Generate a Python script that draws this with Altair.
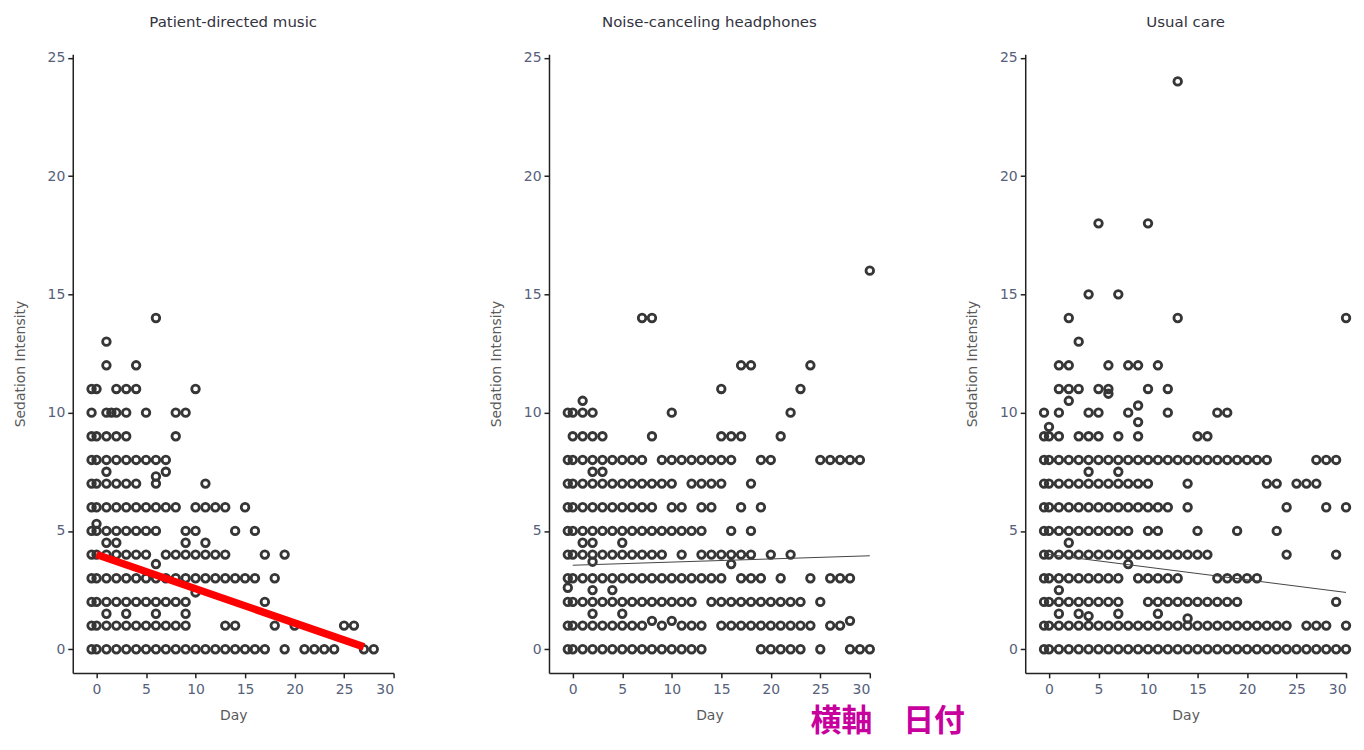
import altair as alt
import pandas as pd

panel_titles = ["Patient-directed music", "Noise-canceling headphones", "Usual care"]
x_ticks = [0, 5, 10, 15, 20, 25, 30]
y_ticks = [0, 5, 10, 15, 20, 25]
note_text = "横軸　日付"

music_rows = {
    14: [6],
    13: [1],
    12: [1, 4],
    11: [-0.5, 0, 2, 3, 4, 10],
    10: [-0.5, 1, 1.5, 2, 3, 5, 8, 9],
    9: [-0.5, 0, 1, 2, 3, 8],
    8: [-0.5, 0, 1, 2, 3, 4, 5, 6, 7],
    7.5: [1, 7],
    7.3: [6],
    7: [-0.5, 0, 1, 2, 3, 4, 6, 11],
    6: [-0.5, 0, 1, 2, 3, 4, 5, 6, 7, 8, 10, 11, 12, 13, 15],
    5.3: [0],
    5: [-0.5, 0, 1, 2, 3, 4, 5, 6, 9, 10, 14, 16],
    4.5: [1, 2, 9, 11],
    4: [-0.5, 0, 1, 2, 3, 4, 5, 7, 8, 9, 10, 11, 12, 13, 17, 19],
    3.6: [6],
    3: [-0.5, 0, 1, 2, 3, 4, 5, 6, 7, 8, 9, 10, 11, 12, 13, 14, 15, 16, 18],
    2.4: [10],
    2: [-0.5, 0, 1, 2, 3, 4, 5, 6, 7, 8, 9, 17],
    1.5: [1, 3, 6, 9],
    1: [-0.5, 0, 1, 2, 3, 4, 5, 6, 7, 8, 9, 13, 14, 18, 20, 25, 26],
    0: [-0.5, 0, 1, 2, 3, 4, 5, 6, 7, 8, 9, 10, 11, 12, 13, 14, 15, 16, 17,
        19, 21, 22, 23, 24, 27, 28],
}

headphone_rows = {
    16: [30],
    14: [7, 8],
    12: [17, 18, 24],
    11: [15, 23],
    10.5: [1],
    10: [-0.5, 0, 1, 2, 10, 22],
    9: [0, 1, 2, 3, 8, 15, 16, 17, 21],
    8: [-0.5, 0, 1, 2, 3, 4, 5, 6, 7, 9, 10, 11, 12, 13, 14, 15, 16, 19, 20,
        25, 26, 27, 28, 29],
    7.5: [2, 3],
    7: [-0.5, 0, 1, 2, 3, 4, 5, 6, 7, 8, 9, 10, 12, 13, 14, 15, 18],
    6: [-0.5, 0, 1, 2, 3, 4, 5, 6, 7, 8, 10, 11, 13, 14, 17, 19],
    5: [-0.5, 0, 1, 2, 3, 4, 5, 6, 7, 8, 9, 10, 11, 12, 13, 16, 18],
    4.5: [1, 2, 5],
    4: [-0.5, 0, 1, 2, 3, 4, 5, 6, 7, 8, 9, 11, 13, 14, 15, 16, 17, 18, 20, 22],
    3.7: [2],
    3.6: [16],
    3: [-0.5, 0, 1, 2, 3, 4, 5, 6, 7, 8, 9, 10, 11, 12, 13, 14, 15, 17, 18, 19,
        21, 24, 26, 27, 28],
    2.6: [-0.5],
    2.5: [2, 4],
    2: [-0.5, 0, 1, 2, 3, 4, 5, 6, 7, 8, 9, 10, 11, 12, 14, 15, 16, 17, 18, 19,
        20, 21, 22, 23, 25],
    1.5: [2, 5],
    1.2: [8, 10, 28],
    1: [-0.5, 0, 1, 2, 3, 4, 5, 6, 7, 9, 11, 12, 13, 15, 16, 17, 18, 19, 20,
        21, 22, 23, 24, 26, 27],
    0: [-0.5, 0, 1, 2, 3, 4, 5, 6, 7, 8, 9, 10, 11, 12, 13, 19, 20, 21, 22, 23,
        25, 28, 29, 30],
}

usual_rows = {
    24: [13],
    18: [5, 10],
    15: [4, 7],
    14: [2, 13, 30],
    13: [3],
    12: [1, 2, 6, 8, 9, 11],
    11: [1, 2, 3, 5, 6, 10, 12],
    10.8: [6],
    10.5: [2],
    10.3: [9],
    10: [-0.5, 1, 4, 5, 8, 12, 17, 18],
    9.6: [9],
    9.4: [0],
    9: [-0.5, 0, 1, 3, 4, 5, 7, 9, 15, 16],
    8: [-0.5, 0, 1, 2, 3, 4, 5, 6, 7, 8, 9, 10, 11, 12, 13, 14, 15, 16, 17, 18,
        19, 20, 21, 22, 27, 28, 29],
    7.5: [4, 7],
    7: [-0.5, 0, 1, 2, 3, 4, 5, 6, 7, 8, 9, 10, 14, 22, 23, 25, 26, 27],
    6: [-0.5, 0, 1, 2, 3, 4, 5, 6, 7, 8, 9, 10, 11, 12, 14, 24, 28, 30],
    5: [-0.5, 0, 1, 2, 3, 4, 5, 6, 7, 8, 10, 11, 15, 19, 23],
    4.5: [2],
    4: [-0.5, 0, 1, 2, 3, 4, 5, 6, 7, 8, 9, 10, 11, 12, 13, 14, 15, 16, 24, 29],
    3.6: [8],
    3: [-0.5, 0, 1, 2, 3, 4, 5, 6, 7, 9, 10, 11, 12, 13, 17, 18, 19, 20, 21],
    2.5: [1],
    2: [-0.5, 0, 1, 2, 3, 4, 5, 6, 7, 10, 11, 12, 13, 14, 15, 16, 17, 18, 19, 29],
    1.5: [1, 3, 7, 11],
    1.4: [4],
    1.3: [14],
    1: [-0.5, 0, 1, 2, 3, 4, 5, 6, 7, 8, 9, 10, 11, 12, 13, 14, 15, 16, 17, 18,
        19, 20, 21, 22, 23, 24, 26, 27, 28, 30],
    0: [-0.5, 0, 1, 2, 3, 4, 5, 6, 7, 8, 9, 10, 11, 12, 13, 14, 15, 16, 17, 18,
        19, 20, 21, 22, 23, 24, 25, 26, 27, 28, 29, 30],
}

# fitted trend lines (end points)
music_fit_day = [0, 27]
music_fit_val = [4.0, 0.1]
headphone_fit_day = [0, 30]
headphone_fit_val = [3.55, 3.95]
usual_fit_day = [0, 30]
usual_fit_val = [4.0, 2.4]


def rows_to_df(rows):
    recs = []
    for val, days in rows.items():
        for d in days:
            recs.append({"day": d, "val": val})
    return pd.DataFrame(recs)


LABEL_COLOR = "#56607a"
AXIS_COLOR = "#222222"

x_enc = alt.X(
    "day:Q",
    scale=alt.Scale(domain=[-2.4, 30], nice=False, zero=False),
    axis=alt.Axis(values=x_ticks, title="Day", titlePadding=12, labelPadding=5),
)
y_enc = alt.Y(
    "val:Q",
    scale=alt.Scale(domain=[-1, 25.15], nice=False, zero=False),
    axis=alt.Axis(values=y_ticks, title="Sedation Intensity", titlePadding=20, labelPadding=3),
)


def panel(title, rows, fit_day, fit_val, line_color, line_width, extra=None):
    pts = alt.Chart(rows_to_df(rows)).mark_point(
        shape="circle", filled=False, size=58, strokeWidth=2.8, color="#363636", opacity=1
    ).encode(x=x_enc, y=y_enc)
    fit = alt.Chart(pd.DataFrame({"day": fit_day, "val": fit_val})).mark_line(
        color=line_color, strokeWidth=line_width
    ).encode(x="day:Q", y="val:Q")
    layers = [pts, fit]
    if extra is not None:
        layers.append(extra)
    return alt.layer(*layers).properties(
        width=322,
        height=621,
        title=alt.TitleParams(
            text=title, font="DejaVu Sans", fontSize=15, fontWeight="normal",
            color="#333340", offset=21, anchor="middle",
        ),
    )


note = alt.Chart(pd.DataFrame({"note": [note_text]})).mark_text(
    font="Noto Sans CJK JP", fontSize=31, fontWeight="bold", color="#C8009E",
    align="center", baseline="middle",
).encode(text="note:N", x=alt.value(340), y=alt.value(670))

p1 = panel(panel_titles[0], music_rows, music_fit_day, music_fit_val, "#ff0000", 7.5)
p2 = panel(panel_titles[1], headphone_rows, headphone_fit_day, headphone_fit_val, "#444444", 1, extra=note)
p3 = panel(panel_titles[2], usual_rows, usual_fit_day, usual_fit_val, "#444444", 1)

chart = alt.hconcat(p1, p2, p3, spacing=156, bounds="flush").configure(
    padding={"left": 5, "top": 5, "right": 0, "bottom": 0}
).configure_view(stroke=None).configure_axis(
    grid=False,
    domainColor=AXIS_COLOR,
    domainWidth=1.5,
    tickColor=AXIS_COLOR,
    tickWidth=1.5,
    tickSize=5,
    labelFont="DejaVu Sans",
    labelFontSize=14,
    labelColor=LABEL_COLOR,
    titleFont="DejaVu Sans",
    titleFontSize=14,
    titleFontWeight="normal",
    titleColor="#5a5a5a",
)

chart.save("out.html", embed_options={"renderer": "svg", "actions": False})
